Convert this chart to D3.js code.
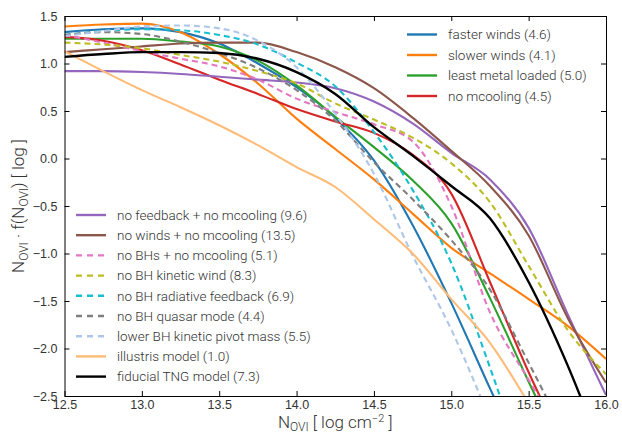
<!DOCTYPE html>
<html lang="en">
<head>
<meta charset="UTF-8">
<title>OVI column density distribution</title>
<script src="https://d3js.org/d3.v7.min.js"></script>
<style>
  body { margin: 0; background: #fff; }
  svg { display: block; font-family: Roboto, "DejaVu Sans", sans-serif; font-weight: 300; }
  .tick text { fill: #333; font-size: 12.5px; }
  .leg text { fill: #333; font-size: 13.5px; }
</style>
</head>
<body>
<svg width="622" height="436"></svg>
<script>
// log N_OVI grid
const logN = [12.5, 12.75, 13.0, 13.25, 13.5, 13.75, 14.0, 14.25, 14.5, 14.75, 15.0, 15.25, 15.5, 15.75, 16.0];

// N * f(N) [log] per model, null where the curve has left the frame
const fasterWinds   = [1.33, 1.36, 1.37, 1.33, 1.21, 1.00, 0.75, 0.43, -0.02, -0.70, -1.52, -2.42, -3.3, null, null];
const slowerWinds   = [1.39, 1.41, 1.42, 1.33, 1.10, 0.79, 0.42, 0.10, -0.22, -0.58, -0.94, -1.21, -1.48, -1.76, -2.11];
const leastMetal    = [1.26, 1.26, 1.26, 1.23, 1.18, 1.03, 0.77, 0.44, 0.12, -0.23, -0.68, -1.47, -2.35, -3.2, null];
const noMcooling    = [1.28, 1.24, 1.14, 0.99, 0.83, 0.68, 0.52, 0.39, 0.27, 0.04, -0.37, -1.30, -2.25, -3.1, null];
const noFbNoMcool   = [0.92, 0.92, 0.91, 0.89, 0.86, 0.83, 0.80, 0.74, 0.60, 0.37, 0.06, -0.22, -0.73, -1.63, -2.49];
const noWindsNoMc   = [1.12, 1.15, 1.18, 1.21, 1.22, 1.22, 1.12, 0.96, 0.74, 0.43, 0.08, -0.29, -0.81, -1.67, -2.36];
const noBHsNoMc     = [1.30, 1.22, 1.13, 1.05, 0.97, 0.83, 0.63, 0.49, 0.36, 0.18, -0.50, -1.62, -2.33, -3.0, null];
const noBHKinetic   = [1.22, 1.20, 1.16, 1.09, 1.02, 0.92, 0.79, 0.58, 0.41, 0.22, -0.05, -0.46, -1.13, -1.80, -2.27];
const noBHRadiative = [1.30, 1.34, 1.36, 1.35, 1.30, 1.20, 1.01, 0.76, 0.28, -0.33, -1.10, -2.20, -3.4, null, null];
const noBHQuasar    = [1.30, 1.33, 1.31, 1.23, 1.11, 0.95, 0.72, 0.40, -0.04, -0.43, -0.86, -1.38, -2.15, -2.95, null];
const lowerBHPivot  = [1.29, 1.34, 1.39, 1.40, 1.37, 1.24, 0.96, 0.47, -0.16, -1.02, -1.80, -2.75, null, null, null];
const illustris     = [1.13, 0.92, 0.72, 0.54, 0.35, 0.14, -0.09, -0.30, -0.64, -1.00, -1.48, -1.94, -2.58, null, null];
const fiducialTNG   = [1.07, 1.10, 1.12, 1.12, 1.11, 1.05, 0.91, 0.68, 0.33, 0.03, -0.29, -0.63, -1.30, -2.17, -3.2];

const xTicks = [12.5, 13.0, 13.5, 14.0, 14.5, 15.0, 15.5, 16.0];
const yTicks = [-2.5, -2.0, -1.5, -1.0, -0.5, 0.0, 0.5, 1.0, 1.5];

const series = [
  {name: "faster winds (4.6)", v: fasterWinds, c: "#1f77b4", dash: false, grp: 0},
  {name: "slower winds (4.1)", v: slowerWinds, c: "#ff7f0e", dash: false, grp: 0},
  {name: "least metal loaded (5.0)", v: leastMetal, c: "#2ca02c", dash: false, grp: 0},
  {name: "no mcooling (4.5)", v: noMcooling, c: "#d62728", dash: false, grp: 0},
  {name: "no feedback + no mcooling (9.6)", v: noFbNoMcool, c: "#9467bd", dash: false, grp: 1},
  {name: "no winds + no mcooling (13.5)", v: noWindsNoMc, c: "#8c564b", dash: false, grp: 1},
  {name: "no BHs + no mcooling (5.1)", v: noBHsNoMc, c: "#e377c2", dash: true, grp: 1},
  {name: "no BH kinetic wind (8.3)", v: noBHKinetic, c: "#bcbd22", dash: true, grp: 1},
  {name: "no BH radiative feedback (6.9)", v: noBHRadiative, c: "#17becf", dash: true, grp: 1},
  {name: "no BH quasar mode (4.4)", v: noBHQuasar, c: "#7f7f7f", dash: true, grp: 1},
  {name: "lower BH kinetic pivot mass (5.5)", v: lowerBHPivot, c: "#aec7e8", dash: true, grp: 1},
  {name: "illustris model (1.0)", v: illustris, c: "#ffbb78", dash: false, grp: 1},
  {name: "fiducial TNG model (7.3)", v: fiducialTNG, c: "#000000", dash: false, grp: 1}
];

const svg = d3.select("svg");
const L = 64.5, R = 606, T = 16, B = 396;
const x = d3.scaleLinear().domain([12.5, 16.0]).range([L, R]);
const y = d3.scaleLinear().domain([-2.5, 1.5]).range([B, T]);

svg.append("clipPath").attr("id", "clip")
  .append("rect").attr("x", L).attr("y", T).attr("width", R - L).attr("height", B - T);

const line = d3.line()
  .defined(d => d[1] !== null)
  .x(d => x(d[0])).y(d => y(d[1]))
  .curve(d3.curveMonotoneX);

const plot = svg.append("g").attr("clip-path", "url(#clip)");
series.forEach(s => {
  plot.append("path")
    .attr("d", line(logN.map((n, i) => [n, s.v[i]])))
    .attr("fill", "none")
    .attr("stroke", s.c)
    .attr("stroke-width", s.c === "#000000" ? 2.4 : 2.1)
    .attr("stroke-dasharray", s.dash ? "6,4" : null);
});

// axes, ticks pointing inward
const fmt = d3.format(".1f");
svg.append("g").attr("transform", `translate(0,${B})`)
  .call(d3.axisBottom(x).tickValues(xTicks).tickFormat(fmt).tickSizeInner(-5).tickSizeOuter(0).tickPadding(4));
svg.append("g").attr("transform", `translate(0,${T})`)
  .call(d3.axisTop(x).tickValues(xTicks).tickFormat("").tickSizeInner(-5).tickSizeOuter(0));
svg.append("g").attr("transform", `translate(${L},0)`)
  .call(d3.axisLeft(y).tickValues(yTicks).tickFormat(fmt).tickSizeInner(-5).tickSizeOuter(0).tickPadding(7));
svg.append("g").attr("transform", `translate(${R},0)`)
  .call(d3.axisRight(y).tickValues(yTicks).tickFormat("").tickSizeInner(-5).tickSizeOuter(0));
svg.selectAll(".domain").attr("stroke", "#000");
svg.selectAll(".tick line").attr("stroke", "#000");

// legends
function legend(items, lx, ly, step) {
  const g = svg.append("g").attr("class", "leg");
  items.forEach((s, i) => {
    const yy = ly + i * step;
    g.append("line").attr("x1", lx).attr("x2", lx + 30).attr("y1", yy).attr("y2", yy)
      .attr("stroke", s.c).attr("stroke-width", 2.4)
      .attr("stroke-dasharray", s.dash ? "6,5" : null);
    g.append("text").attr("x", lx + 41).attr("y", yy).attr("dy", "0.35em").text(s.name);
  });
}
legend(series.filter(s => s.grp === 0), 407, 34.5, 20.5);
legend(series.filter(s => s.grp === 1), 76, 215, 20.2);

// axis labels
const yl = svg.append("text")
  .attr("transform", `translate(24,${(T + B) / 2}) rotate(-90)`)
  .attr("text-anchor", "middle").attr("fill", "#333").attr("font-size", 17);
yl.append("tspan").text("N");
yl.append("tspan").attr("font-size", 12).attr("dy", 4).text("OVI");
yl.append("tspan").attr("dy", -4).text(" · f(N");
yl.append("tspan").attr("font-size", 12).attr("dy", 4).text("OVI");
yl.append("tspan").attr("dy", -4).text(") [ log ]");

const xl = svg.append("text")
  .attr("x", (L + R) / 2).attr("y", 428)
  .attr("text-anchor", "middle").attr("fill", "#333").attr("font-size", 17);
xl.append("tspan").text("N");
xl.append("tspan").attr("font-size", 12).attr("dy", 3).text("OVI");
xl.append("tspan").attr("dy", -3).text(" [ log cm");
xl.append("tspan").attr("font-size", 11).attr("dy", -6).text("−2");
xl.append("tspan").attr("dy", 6).text(" ]");
</script>
</body>
</html>
